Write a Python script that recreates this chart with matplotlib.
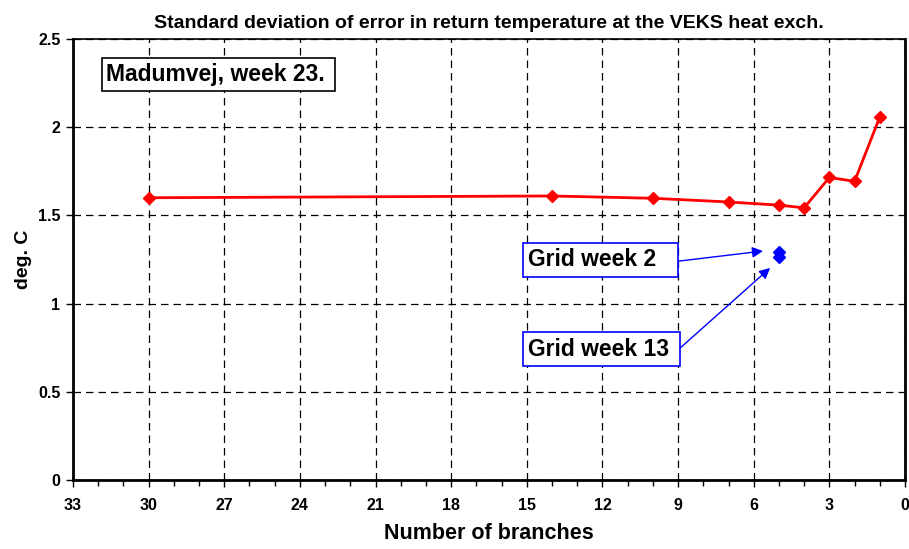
import matplotlib
matplotlib.use("Agg")
import matplotlib.pyplot as plt
from matplotlib.ticker import MultipleLocator
from matplotlib.patches import Rectangle

plt.rcParams['font.family'] = ['Liberation Sans', 'DejaVu Sans']

branches = [30, 14, 10, 7, 5, 4, 3, 2, 1]
std_err = [1.60, 1.61, 1.597, 1.576, 1.558, 1.543, 1.715, 1.693, 2.058]
grid_x = [5, 5]
grid_y = [1.295, 1.265]
y_ticks = [0, 0.5, 1, 1.5, 2, 2.5]
y_tick_labels = ['0', '0.5', '1', '1.5', '2', '2.5']

fig = plt.figure(figsize=(9.09, 5.49), dpi=100)
ax = fig.add_axes([0.0803, 0.1257, 0.9153, 0.8033])

ax.plot(branches, std_err, color='#ff0000', lw=2, marker='D', ms=6.5, zorder=3)
ax.plot(grid_x, grid_y, ls='none', color='#0000ff', marker='D', ms=6.5, zorder=3)

ax.set_xlim(33, 0)
ax.set_ylim(0, 2.5)
ax.xaxis.set_major_locator(MultipleLocator(3))
ax.xaxis.set_minor_locator(MultipleLocator(1))
ax.set_yticks(y_ticks)
ax.set_yticklabels(y_tick_labels)

ax.grid(True, which='major', color='black', ls=(0, (6, 4)), lw=0.9)
ax.set_axisbelow(True)

for s in ['left', 'bottom', 'right']:
    ax.spines[s].set_linewidth(2)
ax.spines['top'].set_linewidth(1.2)

ax.tick_params(axis='both', which='major', direction='out', length=5, width=1, labelsize=11.5)
ax.tick_params(axis='x', which='major', pad=8)
ax.tick_params(axis='y', which='major', pad=4)
ax.tick_params(axis='x', which='minor', direction='out', length=4, width=1)
for lbl in ax.get_xticklabels() + ax.get_yticklabels():
    lbl.set_fontweight('bold')

ax.set_xlabel('Number of branches', fontsize=15.5, fontweight='bold', labelpad=7)
ax.set_ylabel('deg. C', fontsize=14, fontweight='bold', labelpad=4)
ax.set_title('Standard deviation of error in return temperature at the VEKS heat exch.',
             fontsize=14, fontweight='bold', pad=8)

# Madumvej label box
ax.add_patch(Rectangle((0.0349, 0.882), 0.28, 0.075, transform=ax.transAxes,
                       fc='white', ec='black', lw=1.2, zorder=4))
ax.text(0.0397, 0.9195, 'Madumvej, week 23.', transform=ax.transAxes, fontsize=16.5,
        fontweight='bold', ha='left', va='center', zorder=5)

# Grid week boxes
ax.add_patch(Rectangle((0.5409, 0.4603), 0.1863, 0.0771, transform=ax.transAxes,
                       fc='white', ec='#0000ff', lw=1.2, zorder=4))
ax.text(0.547, 0.4989, 'Grid week 2', transform=ax.transAxes, fontsize=16.5,
        fontweight='bold', ha='left', va='center', zorder=5)
ax.add_patch(Rectangle((0.5409, 0.2585), 0.1887, 0.0771, transform=ax.transAxes,
                       fc='white', ec='#0000ff', lw=1.2, zorder=4))
ax.text(0.547, 0.297, 'Grid week 13', transform=ax.transAxes, fontsize=16.5,
        fontweight='bold', ha='left', va='center', zorder=5)

arrow_blue = dict(arrowstyle='-|>', color='#0000ff', lw=1, mutation_scale=16,
                  shrinkA=0, shrinkB=0)
ax.annotate('', xy=(5.63, 1.298), xytext=(8.96, 1.241), arrowprops=arrow_blue, zorder=5)
ax.annotate('', xy=(5.35, 1.202), xytext=(8.92, 0.748), arrowprops=arrow_blue, zorder=5)

fig.savefig('out.png', dpi=100)
